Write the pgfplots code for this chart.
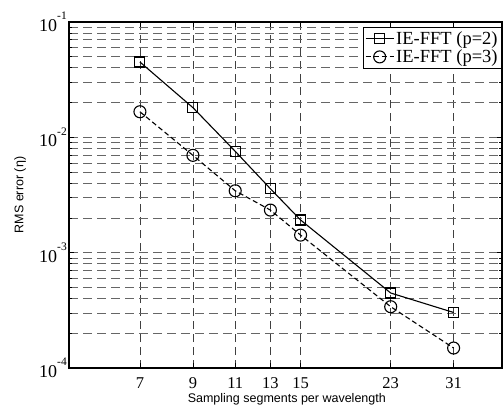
\documentclass[border=0pt]{standalone}
\usepackage{pgfplots}
\pgfplotsset{compat=1.18}
\usepackage{fontspec}
\setmainfont{Liberation Serif}
\newfontfamily\arial{Liberation Sans}
\newcommand{\tp}[1]{10\raisebox{0.66em}{\fontsize{11.5}{12}\selectfont -#1}}
\begin{document}
\begin{tikzpicture}
\path[use as bounding box] (-69pt,-38pt) rectangle (434pt,368pt);
\begin{axis}[
  at={(0pt,0pt)}, anchor=south west,
  scale only axis, width=433pt, height=346pt,
  xmode=log, ymode=log,
  xmin=5, xmax=39, ymin=1e-4, ymax=1e-1,
  xtick={7,9,11,13,15,23,31},
  xticklabels={7,9,11,13,15,23,31},
  minor xtick={},
  ytick={1e-4,1e-3,1e-2,1e-1},
  yticklabels={\tp{4},\tp{3},\tp{2},\tp{1}},
  minor ytick={2e-4,3e-4,4e-4,5e-4,6e-4,7e-4,8e-4,9e-4,2e-3,3e-3,4e-3,5e-3,6e-3,7e-3,8e-3,9e-3,2e-2,3e-2,4e-2,5e-2,6e-2,7e-2,8e-2,9e-2},
  tick align=inside, major tick length=5pt, minor tick length=3pt,
  tick style={black, line width=0.8pt},
  axis line style={line width=1.1pt},
  xmajorgrids, ymajorgrids, yminorgrids,
  major x grid style={black!75, dash pattern=on 8pt off 5pt, line width=0.8pt},
  major y grid style={black!60, dash pattern=on 9pt off 5pt, line width=0.8pt},
  minor y grid style={black!60, dash pattern=on 9pt off 5pt, line width=0.8pt},
  xticklabel style={font=\fontsize{16.5}{18}\selectfont, yshift=-6pt},
  yticklabel style={font=\fontsize{18}{20}\selectfont, inner sep=2pt},
  xlabel={Sampling segments per wavelength},
  xlabel style={font=\arial\fontsize{12.5}{14}\selectfont, at={(axis description cs:0.503,-0.09)}, anchor=center},
  ylabel={RMS error (η)},
  ylabel style={font=\arial\fontsize{12.5}{14}\selectfont, at={(axis description cs:-0.113,0.5)}, anchor=center},
  legend style={at={(1,1)}, anchor=north east, yshift=-5pt, draw=black, line width=0.8pt,
    font=\fontsize{18.5}{21}\selectfont, inner sep=2pt, row sep=0pt, fill=white},
  legend cell align=left,
  legend image code/.code={\draw[mark repeat=2,mark phase=2] plot coordinates {(0pt,0pt) (14pt,0pt) (28pt,0pt)};},
]
\addplot[black, line width=1.1pt, mark=square, mark size=5pt, mark options={solid, line width=1.1pt}] coordinates {
  (7,0.0450) (9,0.0181) (11,0.00757) (13,0.00358) (15,0.00192) (23,0.000447) (31,0.000303)
};
\addlegendentry{IE-FFT (p=2)}
\addplot[black, line width=1.1pt, dash pattern=on 5pt off 3pt, mark=o, mark size=6pt, mark options={solid, line width=1.1pt}] coordinates {
  (7,0.01667) (9,0.00698) (11,0.00344) (13,0.00234) (15,0.00142) (23,0.000340) (31,0.000149)
};
\addlegendentry{IE-FFT (p=3)}
\end{axis}
\end{tikzpicture}
\end{document}
